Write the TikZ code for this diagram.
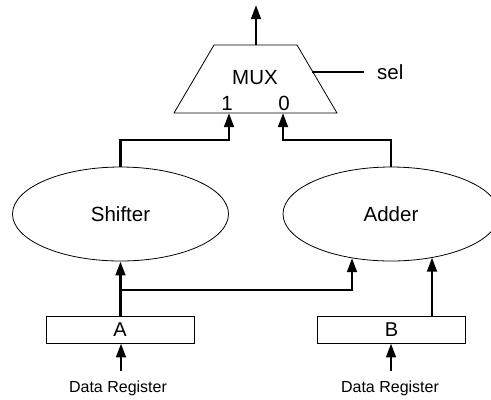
\documentclass[tikz,border=0pt]{standalone}
\usepackage{fontspec}
\setmainfont{Liberation Sans}
\usetikzlibrary{arrows.meta,shapes.geometric}
\begin{document}
\begin{tikzpicture}[x=1bp,y=-1bp,
  thin line/.style={line width=0.8bp},
  bus/.style={line width=2.8bp},
  busarrow/.style={bus,-{Triangle[length=14bp,width=9.5bp]}},
  unit/.style={draw,thin line,ellipse,minimum width=216bp,minimum height=94bp,inner sep=0pt,font=\fontsize{20.5bp}{24bp}\selectfont},
  reg/.style={draw,thin line,rectangle,minimum width=148bp,minimum height=27bp,inner sep=0pt,font=\fontsize{20bp}{24bp}\selectfont},
  lbl/.style={font=\fontsize{20.5bp}{24bp}\selectfont,inner sep=0pt},
  small/.style={font=\fontsize{16bp}{19bp}\selectfont,inner sep=0pt}]
\useasboundingbox (0,0) rectangle (491,399);
% MUX trapezoid
\draw[thin line] (214,45) -- (297,45) -- (337,113) -- (174,113) -- cycle;
\node[lbl] (mux) at (255,78) {MUX};
\node[lbl,anchor=base] (one) at (227,110) {1};
\node[lbl,anchor=base] (zero) at (284,110) {0};
\coordinate (muxtop) at (256,45);
\coordinate (out) at (256,5);
\coordinate (in1) at (229,113);
\coordinate (in0) at (283,113);
\coordinate (selin) at (312,72);
\node[lbl,anchor=west] (sel) at (377,72) {sel};
\draw[busarrow] (muxtop) -- (out);
\draw[bus] (selin) -- (364,72);
% units
\node[unit] (shifter) at (120.5,214) {Shifter};
\node[unit] (adder) at (391,214) {Adder};
\draw[busarrow] (shifter.north) |- (229,140) -- (in1);
\draw[busarrow] (adder.north) |- (283,140) -- (in0);
% registers
\node[reg] (A) at (120,329.5) {A};
\node[reg] (B) at (391.5,329.5) {B};
\draw[busarrow] (A.north -| shifter.south) -- (shifter.south);
\draw[busarrow] (121,290) -- (352,290) -- (352,258);
\coordinate (btop) at (432,316);
\draw[busarrow] (btop) -- (432,257.5);
% inputs
\node[small] (dra) at (118,388) {Data Register};
\node[small] (drb) at (390,388) {Data Register};
\draw[busarrow] (121,371) -- (A.south -| 121,0);
\draw[busarrow] (391,371) -- (B.south -| 391,0);
\end{tikzpicture}
\end{document}
